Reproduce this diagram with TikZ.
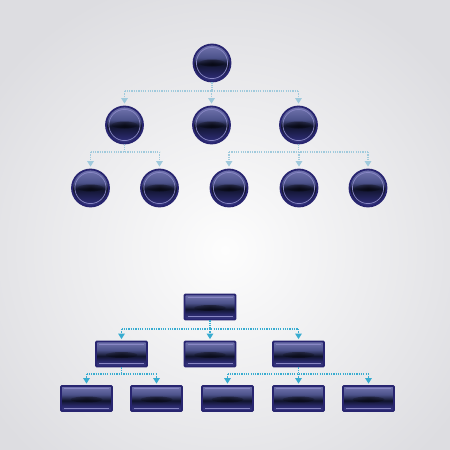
\documentclass[tikz,border=0pt]{standalone}
\usetikzlibrary{arrows.meta,fadings}
\definecolor{navy}{RGB}{40,37,112}
\definecolor{ringc}{RGB}{136,134,196}
\definecolor{otop}{RGB}{116,118,176}
\definecolor{ohi}{RGB}{76,82,138}
\definecolor{ocen}{RGB}{16,20,44}
\definecolor{olow}{RGB}{40,40,104}
\definecolor{obot}{RGB}{58,58,134}
\definecolor{bgout}{RGB}{221,221,225}
\definecolor{bgin}{RGB}{253,253,253}
\definecolor{linkA}{RGB}{160,202,220}
\definecolor{linkB}{RGB}{56,172,208}
\pgfdeclareverticalshading{orbsh}{100bp}{color(0bp)=(obot); color(25bp)=(obot); color(33bp)=(olow); color(49bp)=(ocen); color(57bp)=(ohi); color(75bp)=(otop); color(100bp)=(otop)}
\pgfdeclareverticalshading{boxsh}{100bp}{color(0bp)=(obot); color(25bp)=(obot); color(36bp)=(olow); color(46bp)=(ocen); color(58bp)=(ohi); color(75bp)=(otop); color(100bp)=(otop)}
\tikzfading[name=blobfade, inner color=transparent!0, outer color=transparent!100]
\begin{document}
\begin{tikzpicture}[x=1pt,y=-1pt,
  orb/.style={circle, minimum size=37pt, inner sep=0pt, draw=navy, line width=1.8pt, shading=orbsh,
    path picture={
      \fill[black, opacity=0.55, path fading=blobfade] (path picture bounding box.center) ellipse (13pt and 3.5pt);
      \draw[ringc, line width=0.7pt] (path picture bounding box.center) circle (15.6pt);}},
  boxnode/.style={rectangle, rounded corners=1pt, minimum width=51pt, minimum height=25pt, inner sep=0pt, draw=navy, line width=1.8pt, shading=boxsh,
    path picture={
      \fill[black, opacity=0.5, path fading=blobfade] ([yshift=-1pt]path picture bounding box.center) ellipse (16pt and 3pt);
      \draw[ringc, line width=0.8pt] ([xshift=3pt,yshift=-2.8pt]path picture bounding box.north west) -- ([xshift=-3pt,yshift=-2.8pt]path picture bounding box.north east);
      \draw[ringc, line width=0.8pt] ([xshift=3pt,yshift=2.8pt]path picture bounding box.south west) -- ([xshift=-3pt,yshift=2.8pt]path picture bounding box.south east);}},
  linka/.style={draw=linkA, line width=1.25pt, dash pattern=on 1.2pt off 1.1pt},
  linkb/.style={draw=linkB, line width=1.25pt, dash pattern=on 1.2pt off 1.1pt},
  arra/.style={linka, -{Triangle[width=6.5pt,length=5.5pt]}, shorten >=2pt},
  arrb/.style={linkb, -{Triangle[width=6.5pt,length=5.5pt]}, shorten >=1.5pt}
]
\useasboundingbox (0,0) rectangle (450,450);
\shade[inner color=bgin, outer color=bgout] (-60,-30) rectangle (510,530);

% circle tree
\node[orb] (c1) at (212,63) {};
\node[orb] (c21) at (124.5,125) {};
\node[orb] (c22) at (211.5,125) {};
\node[orb] (c23) at (298.5,125) {};
\node[orb] (c31) at (90.5,188) {};
\node[orb] (c32) at (159.5,188) {};
\node[orb] (c33) at (229,188) {};
\node[orb] (c34) at (299,188) {};
\node[orb] (c35) at (368,188) {};
\coordinate (bus1) at (0,91);
\coordinate (bus2) at (0,152);

\draw[linka] (c1.south) -- (c1.south |- bus1);
\draw[linka] (c21.north |- bus1) -- (c23.north |- bus1);
\draw[arra] (c21.north |- bus1) -- (c21.north);
\draw[arra] (c22.north |- bus1) -- (c22.north);
\draw[arra] (c23.north |- bus1) -- (c23.north);

\draw[linka] (c21.south) -- (c21.south |- bus2);
\draw[linka] (c31.north |- bus2) -- (c32.north |- bus2);
\draw[arra] (c31.north |- bus2) -- (c31.north);
\draw[arra] (c32.north |- bus2) -- (c32.north);

\draw[linka] (c23.south) -- (c23.south |- bus2);
\draw[linka] (c33.north |- bus2) -- (c35.north |- bus2);
\draw[arra] (c33.north |- bus2) -- (c33.north);
\draw[arra] (c34.north |- bus2) -- (c34.north);
\draw[arra] (c35.north |- bus2) -- (c35.north);

% box tree
\node[boxnode] (r1) at (210,307) {};
\node[boxnode] (r21) at (121.5,354) {};
\node[boxnode] (r22) at (210,354) {};
\node[boxnode] (r23) at (298.5,354) {};
\node[boxnode] (r31) at (86.5,398.5) {};
\node[boxnode] (r32) at (156.5,398.5) {};
\node[boxnode] (r33) at (227.5,398.5) {};
\node[boxnode] (r34) at (298.5,398.5) {};
\node[boxnode] (r35) at (368.5,398.5) {};
\coordinate (busA) at (0,329);
\coordinate (busB) at (0,374);

\draw[linkb] (r1.south) -- (r1.south |- busA);
\draw[linkb] (r21.north |- busA) -- (r23.north |- busA);
\draw[arrb] (r21.north |- busA) -- (r21.north);
\draw[arrb] (r22.north |- busA) -- (r22.north);
\draw[arrb] (r23.north |- busA) -- (r23.north);

\draw[linkb] (r21.south) -- (r21.south |- busB);
\draw[linkb] (r31.north |- busB) -- (r32.north |- busB);
\draw[arrb] (r31.north |- busB) -- (r31.north);
\draw[arrb] (r32.north |- busB) -- (r32.north);

\draw[linkb] (r23.south) -- (r23.south |- busB);
\draw[linkb] (r33.north |- busB) -- (r35.north |- busB);
\draw[arrb] (r33.north |- busB) -- (r33.north);
\draw[arrb] (r34.north |- busB) -- (r34.north);
\draw[arrb] (r35.north |- busB) -- (r35.north);
\end{tikzpicture}
\end{document}
